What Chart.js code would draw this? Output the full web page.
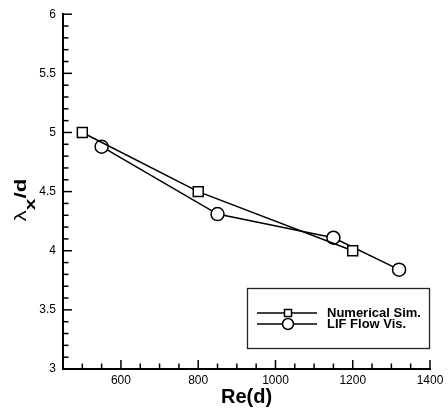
<!DOCTYPE html>
<html lang="en">
  <head>
    <meta charset="UTF-8" />
    <title>lambda_x/d vs Re(d)</title>
    <script src="https://cdn.jsdelivr.net/npm/chart.js"></script>
    <style>
      body {
        margin: 0;
        background: #fff;
      }
    </style>
  </head>
  <body>
    <canvas id="grafico" width="448" height="411"></canvas>

    <script>
      // dados
      const simRe = [500, 800, 1200]
      const simLambda = [5.0, 4.5, 4.0]
      const lifRe = [550, 850, 1150, 1320]
      const lifLambda = [4.88, 4.31, 4.11, 3.84]

      const xTicks = [600, 800, 1000, 1200, 1400]
      const yTicks = [3, 3.5, 4, 4.5, 5, 5.5, 6]

      const rotuloSim = 'Numerical Sim.'
      const rotuloLif = 'LIF Flow Vis.'

      function pontos(xs, ys) {
        return xs.map((x, i) => ({ x: x, y: ys[i] }))
      }

      // ticks para dentro (maiores e menores)
      const ticksInternos = {
        id: 'ticksInternos',
        afterDraw(chart) {
          const ctx = chart.ctx
          const x = chart.scales.x
          const y = chart.scales.y
          const area = chart.chartArea
          ctx.save()
          ctx.strokeStyle = '#000'
          ctx.lineWidth = 1.5
          for (let v = 450; v <= 1400; v += 50) {
            const px = x.getPixelForValue(v)
            const len = v % 200 == 0 ? 9 : 5.5
            ctx.beginPath()
            ctx.moveTo(px, area.bottom)
            ctx.lineTo(px, area.bottom - len)
            ctx.stroke()
          }
          for (let k = 30; k <= 60; k++) {
            const py = y.getPixelForValue(k / 10)
            const len = k % 5 == 0 ? 9 : 5.5
            ctx.beginPath()
            ctx.moveTo(area.left, py)
            ctx.lineTo(area.left + len, py)
            ctx.stroke()
          }
          ctx.restore()
        }
      }

      // título do eixo y com subscrito, letras um pouco esticadas
      const tituloY = {
        id: 'tituloY',
        afterDraw(chart) {
          const ctx = chart.ctx
          const esticar = 1.4
          const partes = [
            { t: 'λ', f: '16px "Liberation Sans"', dy: 0 },
            { t: 'x', f: 'bold 15px "Liberation Sans"', dy: 9.5 },
            { t: '/d', f: 'bold 16px "Liberation Sans"', dy: 0 }
          ]
          ctx.save()
          ctx.fillStyle = '#000'
          ctx.textBaseline = 'alphabetic'
          let total = 0
          partes.forEach(p => {
            ctx.font = p.f
            p.w = ctx.measureText(p.t).width
            total += p.w
          })
          ctx.translate(25.5, 200)
          ctx.rotate(-Math.PI / 2)
          ctx.scale(esticar, 1)
          let pos = -total / 2
          partes.forEach(p => {
            ctx.font = p.f
            ctx.fillText(p.t, pos, p.dy)
            pos += p.w
          })
          ctx.restore()
        }
      }

      // legenda dentro da área do gráfico
      const legendaCaixa = {
        id: 'legendaCaixa',
        afterDraw(chart) {
          const ctx = chart.ctx
          ctx.save()
          ctx.strokeStyle = '#222'
          ctx.lineWidth = 1.3
          ctx.strokeRect(247.5, 288.5, 182, 60)

          const linhas = [
            { y: 313, texto: rotuloSim, estilo: 'rect' },
            { y: 324, texto: rotuloLif, estilo: 'circle' }
          ]
          linhas.forEach(l => {
            ctx.strokeStyle = '#000'
            ctx.lineWidth = 1.5
            ctx.beginPath()
            ctx.moveTo(257, l.y)
            ctx.lineTo(317, l.y)
            ctx.stroke()
            ctx.fillStyle = '#fff'
            ctx.beginPath()
            if (l.estilo == 'rect') {
              ctx.rect(284.5, l.y - 3.5, 7, 7)
            } else {
              ctx.arc(288, l.y, 5.5, 0, Math.PI * 2)
            }
            ctx.fill()
            ctx.stroke()
            ctx.fillStyle = '#000'
            ctx.font = 'bold 13px "Liberation Sans"'
            ctx.textBaseline = 'middle'
            ctx.fillText(l.texto, 327, l.y)
          })
          ctx.restore()
        }
      }

      const dados = {
        datasets: [
          {
            label: rotuloSim,
            data: pontos(simRe, simLambda),
            borderColor: '#000',
            borderWidth: 1.5,
            pointStyle: 'rect',
            pointRadius: 7,
            pointBorderWidth: 1.5,
            pointBackgroundColor: '#fff',
            pointBorderColor: '#000',
            tension: 0
          },
          {
            label: rotuloLif,
            data: pontos(lifRe, lifLambda),
            borderColor: '#000',
            borderWidth: 1.5,
            pointStyle: 'circle',
            pointRadius: 6.5,
            pointBorderWidth: 1.5,
            pointBackgroundColor: '#fff',
            pointBorderColor: '#000',
            tension: 0
          }
        ]
      }

      const config = {
        type: 'line',
        data: dados,
        options: {
          responsive: false,
          animation: false,
          layout: { padding: { top: 12, right: 18, left: 0, bottom: 0 } },
          plugins: {
            legend: { display: false },
            tooltip: { enabled: false }
          },
          scales: {
            x: {
              type: 'linear',
              min: 450,
              max: 1400,
              afterBuildTicks: s => {
                s.ticks = xTicks.map(v => ({ value: v }))
              },
              afterFit: s => {
                s.height = 42
              },
              grid: { drawOnChartArea: false, drawTicks: false, color: 'transparent' },
              border: { display: true, color: '#000', width: 2 },
              ticks: {
                color: '#000',
                padding: 4,
                maxRotation: 0,
                callback: v => String(v),
                font: { family: 'Liberation Sans', size: 12 }
              },
              title: {
                display: true,
                text: 'Re(d)',
                color: '#000',
                font: { family: 'Liberation Sans', size: 20, weight: 'bold' },
                padding: { top: 0, bottom: 2 }
              }
            },
            y: {
              type: 'linear',
              min: 3,
              max: 6,
              afterBuildTicks: s => {
                s.ticks = yTicks.map(v => ({ value: v }))
              },
              afterFit: s => {
                s.width = 63
              },
              grid: { drawOnChartArea: false, drawTicks: false, color: 'transparent' },
              border: { display: true, color: '#000', width: 2 },
              ticks: {
                color: '#000',
                padding: 7,
                callback: v => String(v),
                font: { family: 'Liberation Sans', size: 12 }
              }
            }
          }
        },
        plugins: [ticksInternos, tituloY, legendaCaixa]
      }

      let meuGrafico = new Chart(document.getElementById('grafico'), config)
    </script>
  </body>
</html>
